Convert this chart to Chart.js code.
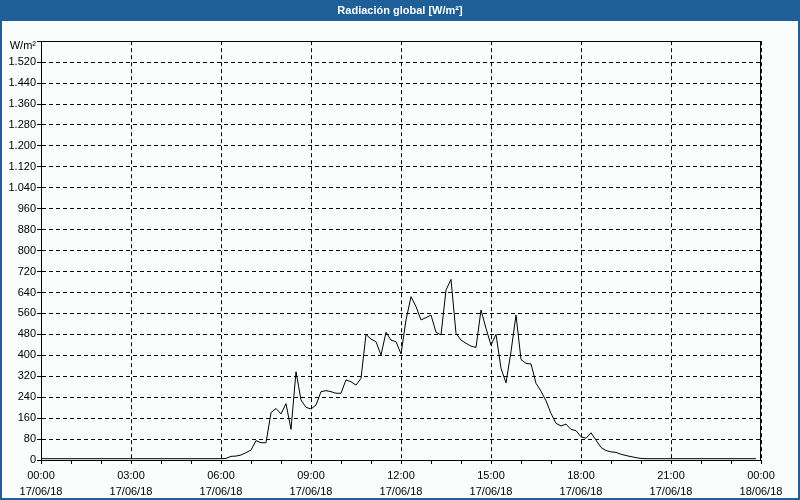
<!DOCTYPE html>
<html>
<head>
<meta charset="utf-8">
<script src="https://cdn.jsdelivr.net/npm/chart.js@4/dist/chart.umd.min.js"></script>
<style>
html,body{margin:0;padding:0;background:#1d5f96;}
canvas{display:block;}
</style>
</head>
<body>
<canvas id="c" width="800" height="500"></canvas>
<script>
// ---- data ----
const chartTitle = 'Radiación global [W/m²]';
const unitLabel = 'W/m²';
const startDate = '17/06/18';
const endDate = '18/06/18';
const stepMinutes = 10; // one reading every 10 minutes, 00:00 .. 23:50
const radiation = [
  // 00:00 - 05:50
  5,5,5,5,5,5, 5,5,5,5,5,5, 5,5,5,5,5,5, 5,5,5,5,5,5, 5,5,5,5,5,5, 5,5,5,5,5,5,
  // 06:00 - 06:50
  5,6,14,15,19,28,
  // 07:00 - 07:50
  38,74,66,66,181,197,
  // 08:00 - 08:50
  176,215,117,337,229,201,
  // 09:00 - 09:50
  195,210,261,265,261,255,
  // 10:00 - 10:50
  255,306,299,286,312,480,
  // 11:00 - 11:50
  462,452,401,488,458,452,
  // 12:00 - 12:50
  405,535,624,586,535,544,
  // 13:00 - 13:50
  554,488,478,649,690,484,
  // 14:00 - 14:50
  458,446,435,430,573,503,
  // 15:00 - 15:50
  439,480,350,295,414,554,
  // 16:00 - 16:50
  384,369,367,293,263,226,
  // 17:00 - 17:50
  178,140,130,137,117,112,
  // 18:00 - 18:50
  89,83,104,76,48,36,
  // 19:00 - 19:50
  31,29,22,17,13,9,
  // 20:00 - 23:50
  6,5,5,5,5,5, 5,5,5,5,5,5, 5,5,5,5,5,5, 5,5,5,5,5,5
];
const yMax = 1600;
const yStep = 80;
const xMaxMinutes = 1440;
const xLabelEvery = 180;

// ---- chart ----
const points = radiation.map((v, i) => ({x: i * stepMinutes, y: v}));
const FONT = 'Liberation Sans';

const frame = {
  id: 'frame',
  beforeDraw(chart) {
    const ctx = chart.ctx;
    ctx.save();
    ctx.fillStyle = '#1d5f96';
    ctx.fillRect(0, 0, 800, 500);
    ctx.fillStyle = '#fbfdfd';
    ctx.fillRect(2, 21, 796, 477);
    ctx.restore();
  },
  afterDraw(chart) {
    const a = chart.chartArea;
    const ctx = chart.ctx;
    ctx.save();
    ctx.strokeStyle = '#000';
    ctx.lineWidth = 1;
    ctx.strokeRect(Math.round(a.left) + 0.5, Math.round(a.top) + 0.5,
                   Math.round(a.right - a.left) - 1, Math.round(a.bottom - a.top));
    ctx.restore();
  }
};

function fmtThousands(v) {
  return String(v).replace(/\B(?=(\d{3})+(?!\d))/g, '.');
}
function hhmm(m) {
  const h = Math.floor(m / 60) % 24;
  return String(h).padStart(2, '0') + ':00';
}

new Chart(document.getElementById('c'), {
  type: 'line',
  data: {
    datasets: [{
      data: points,
      borderColor: '#000',
      borderWidth: 1,
      pointRadius: 0,
      tension: 0,
      fill: false
    }]
  },
  options: {
    responsive: false,
    animation: false,
    devicePixelRatio: 1,
    layout: {padding: {left: 0, right: 0, top: 0, bottom: 0}},
    plugins: {
      legend: {display: false},
      tooltip: {enabled: false},
      title: {
        display: true,
        text: chartTitle,
        color: '#ffffff',
        font: {family: FONT, size: 11, weight: 'bold'},
        padding: {top: 4, bottom: 24}
      }
    },
    scales: {
      x: {
        type: 'linear',
        min: 0,
        max: xMaxMinutes,
        afterBuildTicks(scale) {
          const t = [];
          for (let m = 0; m <= xMaxMinutes; m += 60) t.push({value: m});
          scale.ticks = t;
        },
        afterFit(scale) { scale.height = 40; },
        ticks: {
          autoSkip: false,
          maxRotation: 0,
          padding: 4,
          color: '#000',
          font: {family: FONT, size: 11, lineHeight: 1.45},
          callback(v) {
            if (v % xLabelEvery !== 0) return '';
            return [hhmm(v), v >= xMaxMinutes ? endDate : startDate];
          }
        },
        grid: {
          color: (c) => (c.tick && c.tick.value % xLabelEvery === 0) ? '#000' : 'rgba(0,0,0,0)',
          tickColor: '#000',
          tickLength: 4,
          tickBorderDash: [],
          lineWidth: 1
        },
        border: {display: true, color: '#000', width: 1, dash: [4, 3]}
      },
      y: {
        min: 0,
        max: yMax,
        afterFit(scale) { scale.width = 41; },
        ticks: {
          stepSize: yStep,
          autoSkip: false,
          padding: 1,
          color: '#000',
          font: {family: FONT, size: 11, lineHeight: 0.9},
          callback(v) { return v === yMax ? ['', unitLabel] : fmtThousands(v); }
        },
        grid: {
          color: '#000',
          tickColor: '#000',
          tickLength: 4,
          tickBorderDash: [],
          lineWidth: 1
        },
        border: {display: true, color: '#000', width: 1, dash: [4, 3]}
      },
      spacer: {
        type: 'linear',
        position: 'right',
        min: 0,
        max: yMax,
        afterFit(scale) { scale.width = 39; },
        ticks: {display: false},
        grid: {display: false},
        border: {display: false}
      }
    }
  },
  plugins: [frame]
});
</script>
</body>
</html>
